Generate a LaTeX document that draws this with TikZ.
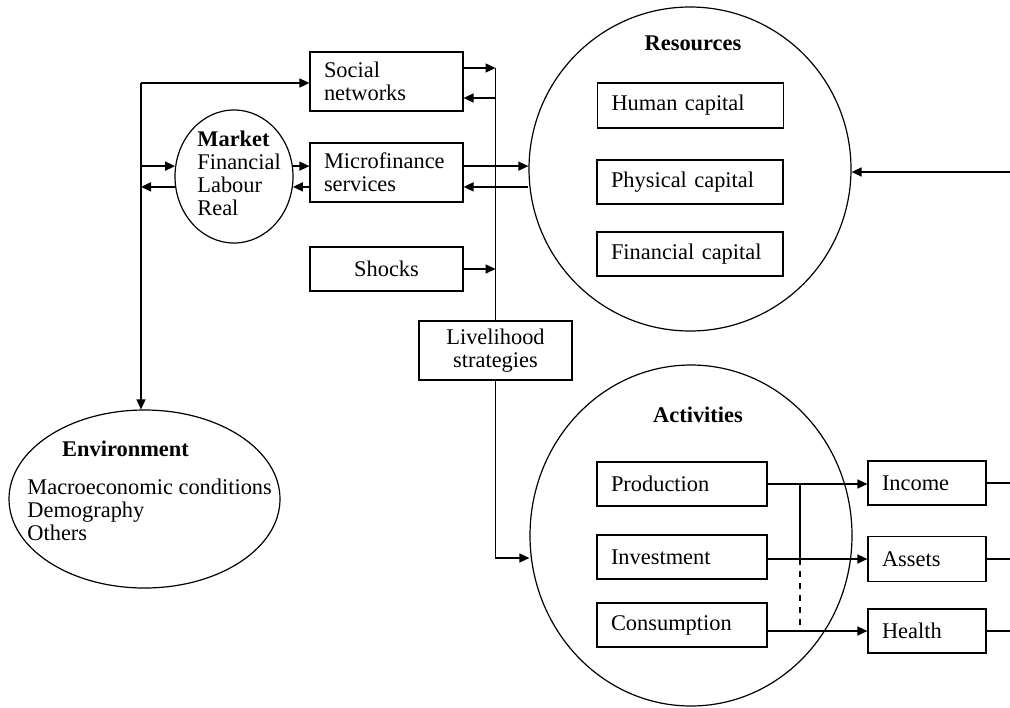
\documentclass[tikz,border=0pt]{standalone}
\usepackage{fontspec}
\setmainfont{Liberation Serif}
\usetikzlibrary{arrows.meta, shapes.geometric, calc}

\tikzset{
  box/.style={rectangle, draw, line width=0.6pt, inner xsep=7pt, inner ysep=0pt, align=left},
  cbox/.style={rectangle, draw, line width=0.6pt, inner sep=0pt, align=center},
  oval/.style={ellipse, draw, line width=0.6pt, inner sep=0pt},
  title/.style={font=\fontsize{11.2}{11.5}\selectfont\bfseries, inner sep=0pt},
  list/.style={align=left, inner sep=0pt},
  arrow/.style={-{Triangle[length=5pt,width=4.5pt]}, line width=0.8pt},
  line/.style={line width=0.8pt}
}

\begin{document}
\begin{tikzpicture}[x=0.5pt, y=-0.5pt, font=\fontsize{11.2}{11.5}\selectfont]
  \useasboundingbox (0,0) rectangle (1010,707);

  % Left column
  \node[oval, minimum width=59pt, minimum height=66.5pt] (market) at (234,176.5) {};
  \node[list, anchor=west] (mktlist) at (197,173) {\textbf{Market}\\Financial\\Labour\\Real};
  \node[oval, minimum width=135.5pt, minimum height=89pt] (env) at (144.5,499) {};
  \node[title] (envtitle) at (125.5,449) {Environment};
  \node[list, anchor=west] (envlist) at (27,510) {Macroeconomic conditions\\Demography\\Others};

  % Middle boxes
  \node[box, text width=62.5pt, minimum height=29.5pt] (social) at (386.5,81.5) {Social\\networks};
  \node[box, text width=62.5pt, minimum height=29.5pt] (micro) at (386.5,172.5) {Microfinance\\services};
  \node[cbox, minimum width=76.5pt, minimum height=22pt] (shocks) at (386.5,269) {Shocks};
  \node[cbox, minimum width=76.5pt, minimum height=29.5pt] (live) at (495.5,350.5) {Livelihood\\strategies};

  % Resources
  \node[oval, minimum width=161pt, minimum height=162pt] (res) at (690,169) {};
  \node[title] (restitle) at (693,43) {Resources};
  \node[box, text width=79pt, minimum height=22.5pt] (human) at (690.5,105.5) {Human capital};
  \node[box, text width=79pt, minimum height=22pt] (physical) at (690,182) {Physical capital};
  \node[box, text width=79pt, minimum height=22pt] (financial) at (690,254) {Financial capital};

  % Activities
  \node[oval, minimum width=161pt, minimum height=170.5pt] (acts) at (691,535.5) {};
  \node[title] (actstitle) at (698,415) {Activities};
  \node[box, text width=71pt, minimum height=22pt] (prod) at (682,484) {Production};
  \node[box, text width=71pt, minimum height=22pt] (inv) at (682,557) {Investment};
  \node[box, text width=71pt, minimum height=22pt] (cons) at (682,625) {Consumption};

  % Outcomes
  \node[box, text width=45pt, minimum height=22pt] (income) at (927,483) {Income};
  \node[box, text width=45pt, minimum height=22.5pt] (assets) at (927,559) {Assets};
  \node[box, text width=45pt, minimum height=22pt] (health) at (927,631) {Health};

  % Bends and free ends
  \coordinate (lx) at (141,83);
  \coordinate (vtop) at (495.5,68);
  \coordinate (vback) at (495.5,98);
  \coordinate (vbot) at (495.5,558);
  \coordinate (rin) at (1010,172);
  \coordinate (jx) at (800,484);

  % Left connectors
  \draw[arrow] (lx) -- (social.west |- lx);
  \draw[arrow] (lx) -- (lx |- env.north);
  \draw[arrow] (lx |- market.170) -- (market.170);
  \draw[arrow] (market.190) -- (lx |- market.190);
  \draw[arrow] (market.10) -- (micro.west |- market.10);
  \draw[arrow] (micro.west |- market.350) -- (market.350);
  \draw[arrow] (micro.east |- market.10) -- (res.west |- market.10);
  \draw[arrow] (res.west |- market.350) -- (micro.east |- market.350);

  % Spine
  \draw[arrow] (social.east |- vtop) -- (vtop);
  \draw[arrow] (vback) -- (social.east |- vback);
  \draw[arrow] (shocks.east) -- (shocks.east -| vtop);
  \draw[line] (vtop) -- (live.north);
  \draw[arrow] (live.south) -- (vbot) -- (acts.west |- vbot);
  \draw[arrow] (rin) -- (res.east |- rin);

  % Activities to outcomes
  \draw[arrow] (prod.east) -- (prod.east -| income.west);
  \draw[arrow] (inv.east |- assets.west) -- (assets.west);
  \draw[arrow] (cons.east |- health.west) -- (health.west);
  \draw[line] (jx) -- (jx |- assets.west);
  \draw[line, dashed] (jx |- assets.west) -- (jx |- health.west);
  \draw[line] (income.east) -- (income.east -| rin);
  \draw[line] (assets.east) -- (assets.east -| rin);
  \draw[line] (health.east) -- (health.east -| rin);
\end{tikzpicture}
\end{document}
